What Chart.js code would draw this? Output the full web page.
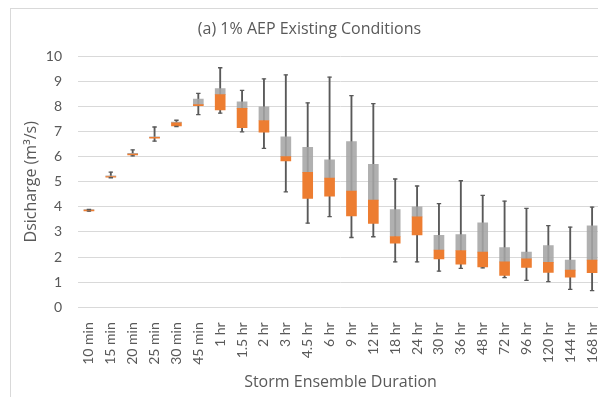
<!DOCTYPE html>
<html>
<head>
<meta charset="utf-8">
<script src="https://cdn.jsdelivr.net/npm/chart.js@4.4.1/dist/chart.umd.min.js"></script>
<style>
    html, body { margin: 0; padding: 0; background: #fff; overflow: hidden; }
    #marco { position: absolute; left: 10px; top: 8px; width: 700px; height: 500px; border: 1px solid #d9d9d9; }
    #grafico { position: absolute; left: 0; top: 0; }
</style>
</head>
<body>
<div id="marco"></div>
<canvas id="grafico" width="616" height="397"></canvas>
<script>
// duraciones de tormenta (eje x)
const duraciones = ['10 min', '15 min', '20 min', '25 min', '30 min', '45 min', '1 hr', '1.5 hr', '2 hr', '3 hr', '4.5 hr', '6 hr',
    '9 hr', '12 hr', '18 hr', '24 hr', '30 hr', '36 hr', '48 hr', '72 hr', '96 hr', '120 hr', '144 hr', '168 hr'];

// caudales (m3/s)
const minimo  = [3.83, 5.16, 6.03, 6.62, 7.20, 7.67, 7.73, 6.99, 6.33, 4.60, 3.35, 3.61, 2.78, 2.81, 1.81, 1.81, 1.44, 1.55, 1.57, 1.18, 1.07, 1.02, 0.71, 0.66];
const cuartil1 = [3.84, 5.18, 6.07, 6.74, 7.22, 8.03, 7.86, 7.15, 6.97, 5.83, 4.34, 4.43, 3.64, 3.34, 2.55, 2.88, 1.93, 1.72, 1.61, 1.27, 1.59, 1.39, 1.20, 1.38];
const mediana = [3.87, 5.21, 6.10, 6.77, 7.35, 8.07, 8.47, 7.92, 7.44, 6.00, 5.37, 5.15, 4.63, 4.27, 2.82, 3.60, 2.28, 2.26, 2.20, 1.81, 1.93, 1.79, 1.48, 1.88];
const cuartil3 = [3.89, 5.24, 6.13, 6.79, 7.38, 8.29, 8.71, 8.18, 7.98, 6.79, 6.37, 5.87, 6.60, 5.69, 3.89, 4.00, 2.87, 2.90, 3.36, 2.38, 2.20, 2.46, 1.88, 3.24];
const maximo  = [3.90, 5.38, 6.27, 7.18, 7.45, 8.52, 9.54, 8.64, 9.10, 9.26, 8.14, 9.17, 8.43, 8.11, 5.11, 4.83, 4.13, 5.04, 4.46, 4.23, 3.94, 3.25, 3.19, 3.99];

const ticksY = [0, 1, 2, 3, 4, 5, 6, 7, 8, 9, 10];

const colorTexto = '#595959';
const fuente = 'Lato, "Open Sans", sans-serif';
const fuenteTitulos = '"Open Sans", Lato, sans-serif';

const rango = (a, b) => a.map((v, i) => [v, b[i]]);

const ctx = document.getElementById('grafico').getContext('2d');
new Chart(ctx, {
    type: 'bar',
    data: {
        labels: duraciones,
        datasets: [
            {
                label: 'Q1-Mediana',
                data: rango(cuartil1, mediana),
                backgroundColor: '#ed7d31',
                barThickness: 10,
                grouped: false,
                order: 2
            },
            {
                label: 'Mediana-Q3',
                data: rango(mediana, cuartil3),
                backgroundColor: 'rgba(165,165,165,0.88)',
                barThickness: 10,
                grouped: false,
                order: 2
            },
            {
                label: 'Bigote',
                data: rango(minimo, maximo),
                backgroundColor: '#595959',
                barThickness: 1.2,
                grouped: false,
                order: 3
            },
            {
                type: 'line',
                label: 'Max',
                data: maximo,
                showLine: false,
                pointStyle: 'line',
                pointRadius: 2.2,
                borderColor: '#595959',
                borderWidth: 1.3,
                order: 1
            },
            {
                type: 'line',
                label: 'Min',
                data: minimo,
                showLine: false,
                pointStyle: 'line',
                pointRadius: 2.2,
                borderColor: '#595959',
                borderWidth: 1.3,
                order: 1
            }
        ]
    },
    options: {
        responsive: false,
        animation: false,
        layout: { padding: { left: 3, right: 0, top: 20, bottom: 5 } },
        plugins: {
            legend: { display: false },
            tooltip: { enabled: false },
            title: {
                display: true,
                text: '(a) 1% AEP Existing Conditions',
                color: colorTexto,
                font: { family: fuenteTitulos, size: 16, weight: 'normal' },
                padding: { top: 0, bottom: 17 }
            }
        },
        scales: {
            x: {
                grid: { display: false },
                border: { display: false },
                ticks: {
                    color: colorTexto,
                    font: { family: fuente, size: 14 },
                    minRotation: 90,
                    maxRotation: 90,
                    padding: 7
                },
                title: {
                    display: true,
                    text: 'Storm Ensemble Duration',
                    color: colorTexto,
                    font: { family: fuenteTitulos, size: 16 },
                    padding: { top: 1, bottom: 0 }
                }
            },
            y: {
                min: 0,
                max: 10,
                afterBuildTicks: (eje) => { eje.ticks = ticksY.map(v => ({ value: v })); },
                afterFit: (eje) => { eje.width = 75; },
                grid: { color: '#d9d9d9', lineWidth: 1, drawTicks: false },
                border: { display: false },
                ticks: {
                    color: colorTexto,
                    font: { family: fuente, size: 14 },
                    padding: 16
                },
                title: {
                    display: true,
                    text: 'Dsicharge (m³/s)',
                    color: colorTexto,
                    font: { family: fuenteTitulos, size: 16 },
                    padding: { top: 19, bottom: 4 }
                }
            }
        }
    }
});
</script>
</body>
</html>
